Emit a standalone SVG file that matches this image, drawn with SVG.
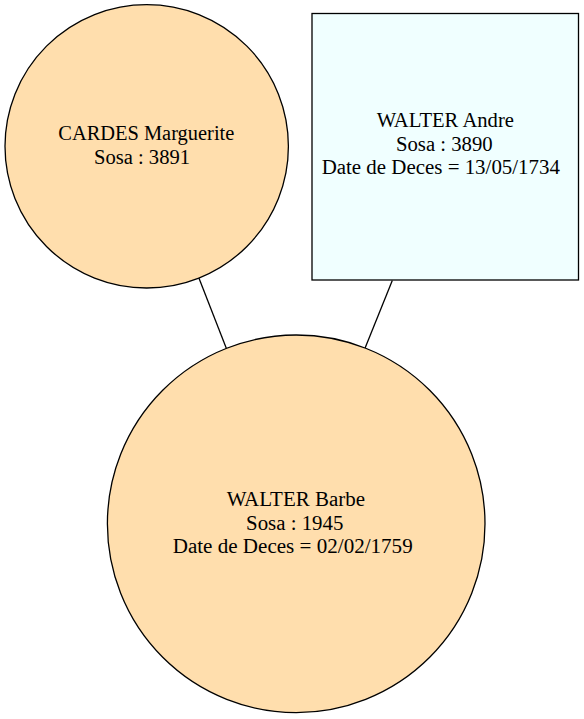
<svg xmlns="http://www.w3.org/2000/svg" width="584" height="719" viewBox="0 0 584 719">
<style>
.shape{stroke:#000;stroke-width:1.3}
.person{fill:#ffdead}
.box{fill:#f0ffff}
text{font-family:"Liberation Serif","Times New Roman",serif;font-size:20.5px;fill:#000;text-anchor:middle}
.edge{stroke:#000;stroke-width:1.3;fill:none}
</style>
<rect width="584" height="719" fill="#fff"/>
<g id="connectors">
<line class="edge" x1="199" y1="278.3" x2="226.7" y2="349.3"/>
<line class="edge" x1="392.3" y1="280.5" x2="365" y2="348.3"/>
</g>
<g id="node-cardes">
<circle class="shape person" cx="146.7" cy="146.3" r="141.7"/>
<text x="146.3" y="140" textLength="176" lengthAdjust="spacingAndGlyphs">CARDES Marguerite</text>
<text x="142" y="164.3" textLength="96" lengthAdjust="spacingAndGlyphs">Sosa : 3891</text>
</g>
<g id="node-walter-andre">
<rect class="shape box" x="312" y="13.5" width="266.5" height="266.5"/>
<text x="445.3" y="126.7" textLength="137.3" lengthAdjust="spacingAndGlyphs">WALTER Andre</text>
<text x="444.3" y="150.7" textLength="96.7" lengthAdjust="spacingAndGlyphs">Sosa : 3890</text>
<text x="440.8" y="174" textLength="238.3" lengthAdjust="spacingAndGlyphs">Date de Deces = 13/05/1734</text>
</g>
<g id="node-walter-barbe">
<circle class="shape person" cx="296.2" cy="523.8" r="188.8"/>
<text x="295.8" y="506" textLength="138.3" lengthAdjust="spacingAndGlyphs">WALTER Barbe</text>
<text x="294.7" y="530" textLength="97.3" lengthAdjust="spacingAndGlyphs">Sosa : 1945</text>
<text x="292.7" y="553" textLength="240" lengthAdjust="spacingAndGlyphs">Date de Deces = 02/02/1759</text>
</g>
</svg>
